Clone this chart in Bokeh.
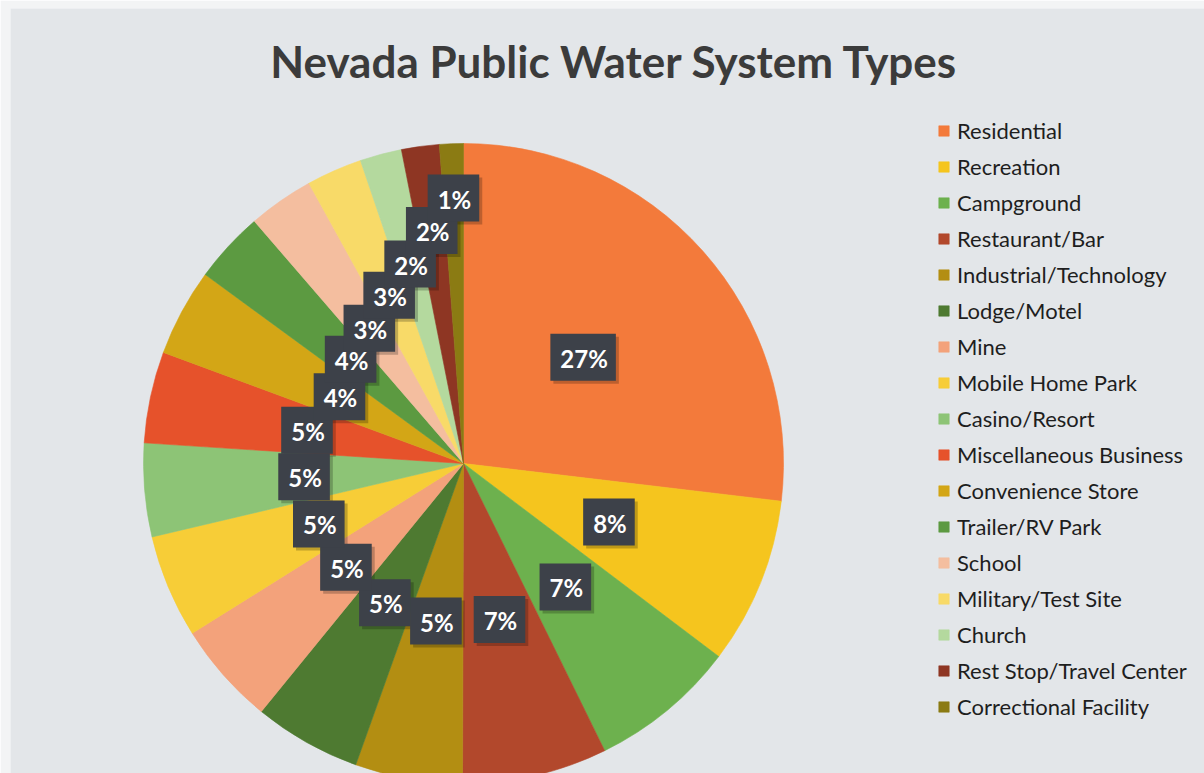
import math
from bokeh.plotting import figure
from bokeh.models import ColumnDataSource, Range1d, Legend, LegendItem
from bokeh.core.properties import value
from bokeh.embed import file_html
from bokeh.resources import INLINE

# ---------------- data ----------------
title_text = "Nevada Public Water System Types"
categories = [
    "Residential", "Recreation", "Campground", "Restaurant/Bar",
    "Industrial/Technology", "Lodge/Motel", "Mine", "Mobile Home Park",
    "Casino/Resort", "Miscellaneous Business", "Convenience Store",
    "Trailer/RV Park", "School", "Military/Test Site", "Church",
    "Rest Stop/Travel Center", "Correctional Facility",
]
shares = [26.8, 8.4, 7.4, 7.3, 5.4, 5.4, 5.2, 5.2, 4.7, 4.6, 4.4, 3.6, 3.3, 2.8, 2.1, 1.9, 1.2]
colors = [
    "#F37A3B", "#F5C51E", "#6DB14E", "#B2482C", "#B38E12", "#4E7A31",
    "#F3A27B", "#F7CD37", "#8DC476", "#E6522B", "#D3A616", "#5C9A41",
    "#F4BE9F", "#F8DA68", "#B4D99E", "#8E3623", "#8B7B13",
]
# radial position of each data label as a fraction of the radius (layout)
label_radius = [0.50, 0.49, 0.50, 0.50, 0.50, 0.50, 0.49, 0.49, 0.50, 0.50,
                0.44, 0.48, 0.515, 0.575, 0.645, 0.735, 0.83]

# ---------------- layout ----------------
W, H = 1204, 773
LEFT, TOP = 10, 8


def to_y(screen_y):
    return H - screen_y


CX, CY, R = 463, to_y(463), 320

total = sum(shares)
starts, ends, lx, ly, labels = [], [], [], [], []
acc = 0.0
for v, f in zip(shares, label_radius):
    t0 = acc / total * 2 * math.pi
    acc += v
    t1 = acc / total * 2 * math.pi
    starts.append(math.pi / 2 - t0)
    ends.append(math.pi / 2 - t1)
    mid = (t0 + t1) / 2
    lx.append(CX + f * R * math.sin(mid))
    ly.append(CY + f * R * math.cos(mid))
    labels.append(f"{round(v / total * 100)}%")

src = ColumnDataSource(dict(cat=categories, val=shares, color=colors,
                            start=starts, end=ends))
lab_src = ColumnDataSource(dict(x=lx, y=ly, text=labels))

p = figure(width=W, height=H, output_backend="svg", toolbar_location=None,
           title=None, x_range=Range1d(LEFT, W), y_range=Range1d(0, H - TOP),
           min_border=0, min_border_left=LEFT, min_border_top=TOP,
           background_fill_color="#e3e6e9", border_fill_color="#f3f4f5")
p.axis.visible = False
p.grid.visible = False
p.outline_line_color = None

wedges = p.wedge(x=CX, y=CY, radius=R, start_angle="start", end_angle="end",
                 direction="clock", fill_color="color", line_color="color",
                 line_width=0.6, source=src)

label_font = dict(text_font=value("Lato"), text_font_style="bold",
                  text_font_size="24px", text_align="center",
                  text_baseline="middle")
pad = (10, 8, 10, 8)
# soft shadow behind the label boxes
p.text(x="x", y="y", text="text", source=lab_src, text_alpha=0,
       background_fill_color="black", background_fill_alpha=0.22,
       padding=pad, x_offset=3, y_offset=3, **label_font)
p.text(x="x", y="y", text="text", source=lab_src, text_color="white",
       background_fill_color="#3d4149", padding=pad, **label_font)

# title
p.text(x=[614], y=[to_y(60)], text=[title_text], text_font=value("Lato"),
       text_font_style="bold", text_font_size="44px", text_color="#3b3b3b",
       text_align="center", text_baseline="alphabetic")

legend = Legend(
    items=[LegendItem(label=c, renderers=[wedges], index=i)
           for i, c in enumerate(categories)],
    location=(927, 53), glyph_width=13, glyph_height=13,
    label_text_font="Lato", label_text_font_size="22px",
    label_text_color="#1e1e1e", label_standoff=7, label_height=26,
    spacing=9, padding=0, margin=0, border_line_color=None,
    background_fill_alpha=0,
)
p.add_layout(legend)

open("out.html", "w").write(file_html(p, INLINE))
